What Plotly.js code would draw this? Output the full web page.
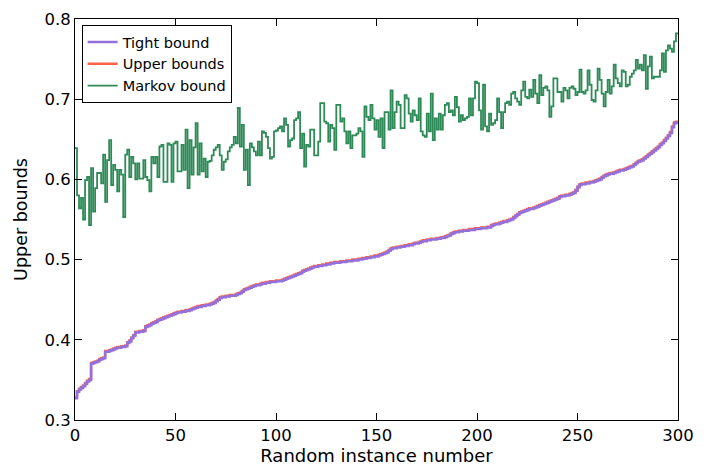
<!DOCTYPE html>
<html>
<head>
<meta charset="utf-8">
<script src="https://cdn.plot.ly/plotly-3.0.1.min.js"></script>
<style>html,body{margin:0;padding:0;background:#fff;}#chart{width:711px;height:473px;}</style>
</head>
<body>
<div id="chart"></div>
<script>
const seriesNames = ["Tight bound", "Upper bounds", "Markov bound"];
const seriesColors = ["#9370DB", "#FF6347", "#2E8B57"];
const xTicks = [0, 50, 100, 150, 200, 250, 300];
const yTicks = [0.3, 0.4, 0.5, 0.6, 0.7, 0.8];

const tightBound = [
0.327,0.335,0.338,0.340,0.342,0.345,0.348,0.350,0.370,0.371,
0.372,0.373,0.375,0.376,0.377,0.385,0.385,0.386,0.387,0.388,
0.389,0.390,0.390,0.391,0.391,0.392,0.396,0.398,0.402,0.405,
0.409,0.409,0.410,0.410,0.411,0.416,0.417,0.418,0.420,0.421,
0.422,0.424,0.425,0.426,0.427,0.428,0.429,0.430,0.431,0.432,
0.433,0.434,0.434,0.435,0.435,0.436,0.436,0.437,0.438,0.439,
0.440,0.441,0.441,0.442,0.442,0.443,0.443,0.444,0.445,0.446,
0.448,0.450,0.452,0.453,0.453,0.454,0.454,0.455,0.455,0.455,
0.456,0.457,0.458,0.460,0.462,0.463,0.464,0.465,0.466,0.467,
0.468,0.468,0.469,0.470,0.470,0.471,0.471,0.472,0.472,0.472,
0.473,0.473,0.473,0.474,0.475,0.476,0.477,0.478,0.479,0.480,
0.481,0.482,0.483,0.485,0.486,0.487,0.488,0.489,0.490,0.491,
0.491,0.492,0.492,0.493,0.493,0.494,0.494,0.495,0.495,0.496,
0.496,0.496,0.497,0.497,0.497,0.498,0.498,0.498,0.499,0.499,
0.499,0.500,0.500,0.501,0.501,0.502,0.502,0.503,0.503,0.504,
0.504,0.505,0.506,0.507,0.508,0.509,0.511,0.513,0.514,0.514,
0.515,0.515,0.516,0.516,0.517,0.517,0.518,0.518,0.519,0.520,
0.520,0.521,0.522,0.523,0.523,0.524,0.524,0.525,0.525,0.525,
0.526,0.526,0.527,0.527,0.528,0.529,0.530,0.532,0.533,0.534,
0.534,0.535,0.535,0.536,0.536,0.536,0.537,0.537,0.537,0.538,
0.538,0.538,0.539,0.539,0.539,0.540,0.540,0.542,0.543,0.544,
0.544,0.545,0.546,0.547,0.547,0.548,0.549,0.550,0.552,0.554,
0.556,0.558,0.559,0.560,0.561,0.562,0.563,0.563,0.564,0.565,
0.566,0.567,0.568,0.569,0.570,0.571,0.572,0.573,0.574,0.575,
0.576,0.578,0.579,0.579,0.580,0.580,0.581,0.582,0.583,0.586,
0.590,0.593,0.594,0.594,0.595,0.595,0.596,0.596,0.597,0.598,
0.599,0.600,0.602,0.604,0.605,0.606,0.607,0.607,0.608,0.609,
0.610,0.611,0.611,0.612,0.613,0.614,0.615,0.616,0.618,0.620,
0.622,0.623,0.624,0.626,0.628,0.630,0.632,0.634,0.636,0.638,
0.640,0.643,0.645,0.648,0.651,0.654,0.658,0.665,0.670,0.671,
0.672];

const upperBounds = [
0.328,0.336,0.339,0.341,0.343,0.346,0.349,0.351,0.371,0.372,
0.373,0.374,0.376,0.377,0.378,0.386,0.386,0.387,0.388,0.389,
0.390,0.391,0.391,0.392,0.392,0.393,0.397,0.399,0.403,0.406,
0.410,0.410,0.411,0.411,0.412,0.417,0.418,0.419,0.421,0.422,
0.423,0.425,0.426,0.427,0.428,0.429,0.430,0.431,0.432,0.433,
0.434,0.435,0.435,0.436,0.436,0.437,0.437,0.438,0.439,0.440,
0.441,0.442,0.442,0.443,0.443,0.444,0.444,0.445,0.446,0.447,
0.449,0.451,0.453,0.454,0.454,0.455,0.455,0.456,0.456,0.456,
0.457,0.458,0.459,0.461,0.463,0.464,0.465,0.466,0.467,0.468,
0.469,0.469,0.470,0.471,0.471,0.472,0.472,0.473,0.473,0.473,
0.474,0.474,0.474,0.475,0.476,0.477,0.478,0.479,0.480,0.481,
0.482,0.483,0.484,0.486,0.487,0.488,0.489,0.490,0.491,0.492,
0.492,0.493,0.493,0.494,0.494,0.495,0.495,0.496,0.496,0.497,
0.497,0.497,0.498,0.498,0.498,0.499,0.499,0.499,0.500,0.500,
0.500,0.501,0.501,0.502,0.502,0.503,0.503,0.504,0.504,0.505,
0.505,0.506,0.507,0.508,0.509,0.510,0.512,0.514,0.515,0.515,
0.516,0.516,0.517,0.517,0.518,0.518,0.519,0.519,0.520,0.521,
0.521,0.522,0.523,0.524,0.524,0.525,0.525,0.526,0.526,0.526,
0.527,0.527,0.528,0.528,0.529,0.530,0.531,0.533,0.534,0.535,
0.535,0.536,0.536,0.537,0.537,0.537,0.538,0.538,0.538,0.539,
0.539,0.539,0.540,0.540,0.540,0.541,0.541,0.543,0.544,0.545,
0.545,0.546,0.547,0.548,0.548,0.549,0.550,0.551,0.553,0.555,
0.557,0.559,0.560,0.561,0.562,0.563,0.564,0.564,0.565,0.566,
0.567,0.568,0.569,0.570,0.571,0.572,0.573,0.574,0.575,0.576,
0.577,0.579,0.580,0.580,0.581,0.581,0.582,0.583,0.584,0.587,
0.591,0.594,0.595,0.595,0.596,0.596,0.597,0.597,0.598,0.599,
0.600,0.601,0.603,0.605,0.606,0.607,0.608,0.608,0.609,0.610,
0.611,0.612,0.612,0.613,0.614,0.615,0.616,0.617,0.619,0.621,
0.623,0.624,0.625,0.627,0.629,0.631,0.633,0.635,0.637,0.639,
0.641,0.644,0.646,0.649,0.652,0.655,0.659,0.666,0.671,0.672,
0.673];

const markovBound = [
0.639,0.580,0.564,0.577,0.550,0.599,0.603,0.543,0.614,0.560,
0.589,0.608,0.608,0.595,0.631,0.572,0.624,0.649,0.593,0.618,
0.612,0.585,0.612,0.606,0.553,0.631,0.637,0.603,0.628,0.620,
0.600,0.620,0.601,0.601,0.624,0.603,0.599,0.585,0.628,0.620,
0.628,0.603,0.641,0.643,0.597,0.597,0.645,0.643,0.597,0.645,
0.647,0.610,0.610,0.643,0.612,0.662,0.589,0.649,0.606,0.640,
0.670,0.606,0.645,0.610,0.626,0.603,0.622,0.623,0.630,0.637,
0.640,0.643,0.630,0.612,0.622,0.625,0.635,0.640,0.643,0.653,
0.645,0.689,0.641,0.668,0.612,0.637,0.593,0.645,0.640,0.635,
0.630,0.647,0.630,0.660,0.658,0.653,0.639,0.626,0.628,0.660,
0.661,0.664,0.666,0.660,0.676,0.668,0.641,0.649,0.651,0.674,
0.676,0.684,0.639,0.657,0.616,0.643,0.641,0.662,0.662,0.630,
0.630,0.647,0.695,0.695,0.672,0.670,0.647,0.668,0.664,0.637,
0.693,0.693,0.672,0.676,0.660,0.645,0.660,0.639,0.655,0.655,
0.657,0.664,0.660,0.628,0.691,0.678,0.674,0.693,0.676,0.662,
0.674,0.653,0.676,0.639,0.684,0.684,0.662,0.711,0.664,0.684,
0.697,0.693,0.664,0.664,0.705,0.701,0.682,0.672,0.686,0.680,
0.674,0.701,0.660,0.655,0.653,0.682,0.660,0.707,0.649,0.676,
0.662,0.682,0.662,0.680,0.693,0.695,0.684,0.686,0.680,0.703,
0.690,0.672,0.680,0.674,0.676,0.678,0.701,0.680,0.701,0.722,
0.720,0.686,0.662,0.718,0.666,0.660,0.682,0.668,0.670,0.674,
0.701,0.684,0.664,0.684,0.695,0.697,0.693,0.707,0.709,0.701,
0.697,0.693,0.711,0.722,0.703,0.701,0.712,0.703,0.724,0.707,
0.695,0.730,0.705,0.714,0.716,0.711,0.678,0.691,0.726,0.726,
0.709,0.709,0.697,0.714,0.711,0.701,0.714,0.716,0.713,0.705,
0.709,0.737,0.709,0.707,0.711,0.736,0.718,0.699,0.697,0.711,
0.738,0.724,0.707,0.691,0.709,0.724,0.707,0.716,0.743,0.726,
0.720,0.716,0.736,0.734,0.716,0.718,0.728,0.732,0.736,0.749,
0.738,0.743,0.736,0.755,0.713,0.741,0.753,0.726,0.728,0.728,
0.728,0.736,0.757,0.734,0.761,0.767,0.763,0.759,0.772,0.782,
0.782];

const instances = markovBound.map((_, i) => i);
const values = [tightBound, upperBounds, markovBound];
const widths = [2.5, 2.5, 1.8];
const ranks = [1, 2, 3];
const drawOrder = [1, 0, 2];

const traces = drawOrder.map(k => ({
  x: instances,
  y: values[k],
  type: 'scatter',
  mode: 'lines',
  name: seriesNames[k],
  legendrank: ranks[k],
  line: {color: seriesColors[k], width: widths[k], shape: 'hv'}
}));

const axisCommon = {
  showline: true, linecolor: '#000', linewidth: 1, mirror: 'ticks',
  ticks: 'inside', ticklen: 7, tickwidth: 1, tickcolor: '#000',
  showgrid: false, zeroline: false,
  tickfont: {family: 'DejaVu Sans', size: 16.5, color: '#000'}
};

const layout = {
  width: 711, height: 473,
  margin: {l: 75, r: 33, t: 19, b: 53},
  paper_bgcolor: '#fff', plot_bgcolor: '#fff',
  font: {family: 'DejaVu Sans', color: '#000'},
  xaxis: Object.assign({}, axisCommon, {
    range: [0, 300], tickvals: xTicks, ticktext: xTicks.map(String),
    title: {text: 'Random instance number', font: {family: 'DejaVu Sans', size: 18, color: '#000'}, standoff: 3}
  }),
  yaxis: Object.assign({}, axisCommon, {
    range: [0.3, 0.8], tickvals: yTicks, ticktext: yTicks.map(v => v.toFixed(1)),
    title: {text: 'Upper bounds', font: {family: 'DejaVu Sans', size: 17.5, color: '#000'}, standoff: 12}
  }),
  showlegend: true,
  legend: {
    x: 0.011, y: 0.985, xanchor: 'left', yanchor: 'top',
    bgcolor: '#fff', bordercolor: '#000', borderwidth: 1,
    font: {family: 'DejaVu Sans', size: 14.5, color: '#000'},
    tracegroupgap: 0
  }
};

Plotly.newPlot('chart', traces, layout, {displayModeBar: false, staticPlot: true});
</script>
</body>
</html>
